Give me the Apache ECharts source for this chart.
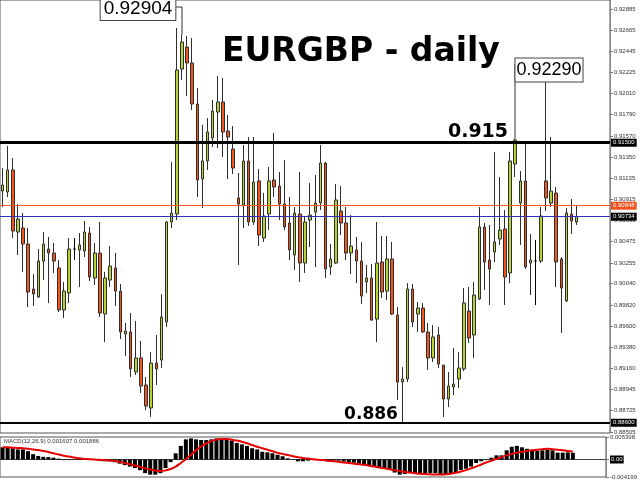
<!DOCTYPE html>
<html><head><meta charset="utf-8">
<script src="https://cdn.jsdelivr.net/npm/echarts@6/dist/echarts.min.js"></script>
<style>html,body{margin:0;padding:0;background:#fff}#c{width:640px;height:480px}</style>
</head><body><div id="c"></div>
<script>
// ---- data (EURGBP daily) ----
const opens = [0.91000,0.90990,0.91218,0.90575,0.90617,0.90451,0.89985,0.89902,0.90275,0.90399,
0.90358,0.90203,0.89768,0.89944,0.90399,0.90389,0.90379,0.90565,0.90099,0.90358,
0.89726,0.90078,0.90203,0.89964,0.89519,0.89540,0.89126,0.89271,0.88991,0.88753,
0.89219,0.89250,0.89643,0.90679,0.90762,0.92263,0.92491,0.92326,0.91901,0.91124,
0.91311,0.91549,0.91818,0.91922,0.91621,0.91435,0.90928,0.90855,0.91311,0.90679,
0.91104,0.90513,0.90762,0.91114,0.91052,0.90865,0.90669,0.90337,0.90762,0.90254,
0.90700,0.90782,0.90876,0.91290,0.90213,0.90254,0.90793,0.90669,0.90358,0.90389,
0.90275,0.90058,0.90099,0.89674,0.90265,0.89964,0.90296,0.89716,0.89022,0.89053,
0.89985,0.89726,0.89788,0.89540,0.89271,0.89509,0.89198,0.88846,0.88970,0.89053,
0.89157,0.89757,0.89509,0.89882,0.90627,0.90285,0.90368,0.90503,0.90607,0.90151,
0.91280,0.90876,0.91104,0.90254,0.90275,0.90275,0.91104,0.90876,0.90979,0.90296,
0.89861,0.90762,0.90679];
const closes = [0.91062,0.91218,0.90586,0.90710,0.90451,0.89954,0.89933,0.90275,0.90451,0.90358,
0.90275,0.89768,0.89964,0.90399,0.90399,0.90441,0.90575,0.90109,0.90358,0.89737,
0.90099,0.90223,0.89964,0.89540,0.89550,0.89157,0.89271,0.88981,0.88773,0.89219,
0.89157,0.89695,0.90679,0.90772,0.92253,0.92543,0.92326,0.91901,0.91114,0.91311,
0.91611,0.91828,0.91922,0.91611,0.91559,0.91238,0.90865,0.91311,0.90679,0.91093,
0.90544,0.90741,0.91104,0.91041,0.90865,0.90627,0.90389,0.90772,0.90254,0.90679,
0.90751,0.90876,0.91290,0.90192,0.90296,0.90907,0.90669,0.90358,0.90430,0.90275,
0.89913,0.90099,0.89664,0.90254,0.89954,0.90296,0.89726,0.89022,0.89053,0.89985,
0.89643,0.89788,0.89540,0.89271,0.89488,0.89208,0.88846,0.88981,0.89001,0.89167,
0.89840,0.89478,0.89923,0.90627,0.90265,0.90192,0.90472,0.90596,0.90109,0.91311,
0.91528,0.91104,0.90213,0.90285,0.90275,0.90741,0.90928,0.91000,0.90265,0.89995,
0.90772,0.90689,0.90734];
const lows = [0.90834,0.90938,0.90513,0.90337,0.90161,0.89799,0.89809,0.89892,0.90078,0.89840,
0.90151,0.89747,0.89685,0.89840,0.90285,0.90006,0.90317,0.90068,0.90027,0.89695,
0.89436,0.90006,0.89809,0.89467,0.89291,0.89074,0.89095,0.88908,0.88732,0.88660,
0.88991,0.89167,0.89592,0.90617,0.90700,0.92150,0.91984,0.91839,0.90938,0.90824,
0.91218,0.91456,0.91445,0.91352,0.91124,0.91176,0.90234,0.90617,0.90638,0.90648,
0.90430,0.90472,0.90596,0.90938,0.90700,0.90596,0.90285,0.90182,0.90058,0.90151,
0.90420,0.90213,0.90803,0.90099,0.90130,0.90244,0.90544,0.90285,0.90140,0.90047,
0.89830,0.89944,0.89654,0.89436,0.89892,0.89871,0.89716,0.88836,0.88608,0.89022,
0.89592,0.89540,0.89530,0.89146,0.89229,0.89167,0.88660,0.88763,0.88887,0.88960,
0.89136,0.89426,0.89271,0.89871,0.89975,0.89819,0.90265,0.90441,0.89819,0.90047,
0.91145,0.90441,0.90192,0.89923,0.89819,0.90254,0.90793,0.90834,0.90006,0.89530,
0.89850,0.90555,0.90648];
const highs = [0.91238,0.91466,0.91342,0.90865,0.90772,0.90617,0.90140,0.90399,0.90575,0.90524,
0.90462,0.90285,0.90058,0.90513,0.90513,0.90565,0.90689,0.90627,0.90462,0.90679,
0.90161,0.90430,0.90358,0.90037,0.89633,0.89737,0.89654,0.89447,0.89074,0.89333,
0.89509,0.89933,0.90689,0.91300,0.92688,0.92616,0.92605,0.92585,0.92067,0.91684,
0.91756,0.91942,0.92191,0.92170,0.91787,0.91673,0.91186,0.91476,0.91559,0.91559,
0.91228,0.90979,0.91249,0.91601,0.91197,0.91321,0.90938,0.90834,0.91197,0.90731,
0.91083,0.91166,0.91476,0.91300,0.90451,0.91073,0.91052,0.90834,0.90751,0.90524,
0.90472,0.90234,0.90244,0.90679,0.90534,0.90534,0.90472,0.89799,0.89177,0.90047,
0.90037,0.89850,0.89840,0.89633,0.89612,0.89592,0.89198,0.89126,0.89374,0.89333,
0.89995,0.90006,0.90058,0.90834,0.90669,0.90648,0.91404,0.91145,0.90803,0.91404,
0.91539,0.91207,0.91497,0.90555,0.90493,0.90834,0.92129,0.91559,0.91041,0.90317,
0.90824,0.90917,0.90845];
const macdHist = [0.00292,0.00292,0.00270,0.00242,0.00242,0.00199,0.00128,0.00085,0.00064,0.00057,
0.00043,0.00021,-0.00014,-0.00014,0.00005,0.00007,0.00007,0.00000,-0.00007,-0.00028,
-0.00043,-0.00043,-0.00064,-0.00100,-0.00135,-0.00170,-0.00206,-0.00256,-0.00327,-0.00363,
-0.00363,-0.00327,-0.00206,-0.00064,0.00149,0.00327,0.00483,0.00505,0.00483,0.00469,
0.00469,0.00483,0.00505,0.00505,0.00483,0.00455,0.00398,0.00363,0.00327,0.00270,
0.00242,0.00185,0.00171,0.00149,0.00114,0.00078,0.00028,0.00007,-0.00043,-0.00043,
-0.00028,-0.00014,-0.00007,-0.00028,-0.00043,-0.00028,-0.00028,-0.00050,-0.00064,-0.00078,
-0.00100,-0.00135,-0.00156,-0.00170,-0.00206,-0.00206,-0.00242,-0.00313,-0.00363,-0.00348,
-0.00327,-0.00334,-0.00327,-0.00334,-0.00327,-0.00327,-0.00348,-0.00363,-0.00348,-0.00327,
-0.00256,-0.00220,-0.00170,-0.00085,-0.00043,-0.00014,0.00043,0.00100,0.00100,0.00220,
0.00306,0.00327,0.00292,0.00256,0.00220,0.00206,0.00220,0.00235,0.00220,0.00164,
0.00164,0.00171,0.001607];
const macdSignal = [0.002915,0.002915,0.002844,0.002773,0.002702,0.002560,0.002417,0.002275,0.002062,0.001778,
0.001493,0.001209,0.000924,0.000711,0.000498,0.000284,0.000142,0.000071,0.000000,-0.000071,
-0.000142,-0.000213,-0.000356,-0.000569,-0.000853,-0.001138,-0.001422,-0.001778,-0.002133,-0.002417,
-0.002631,-0.002773,-0.002631,-0.002275,-0.001706,-0.000853,0.000071,0.001138,0.002204,0.003128,
0.003839,0.004408,0.004764,0.004906,0.004906,0.004764,0.004550,0.004266,0.003911,0.003484,
0.003057,0.002702,0.002346,0.001991,0.001635,0.001351,0.001067,0.000782,0.000569,0.000356,
0.000213,0.000071,-0.000071,-0.000142,-0.000284,-0.000427,-0.000569,-0.000711,-0.000853,-0.000995,
-0.001138,-0.001280,-0.001493,-0.001706,-0.001920,-0.002133,-0.002346,-0.002560,-0.002773,-0.002986,
-0.003128,-0.003271,-0.003413,-0.003484,-0.003555,-0.003626,-0.003626,-0.003555,-0.003413,-0.003200,
-0.002915,-0.002560,-0.002133,-0.001706,-0.001209,-0.000711,-0.000284,0.000142,0.000569,0.000995,
0.001351,0.001635,0.001849,0.002062,0.002204,0.002346,0.002489,0.002560,0.002489,0.002346,
0.002204,0.002062,0.001886];
const priceTicks = [0.92885,0.92665,0.92445,0.92225,0.92010,0.91790,0.91570,0.91350,0.91135,0.90915,
0.90695,0.90475,0.90255,0.90040,0.89820,0.89600,0.89380,0.89160,0.88945,0.88725,0.88505];
const macdTicks = [0.005398, 0, -0.004199];
const levelValues = [0.91500, 0.88600, 0.90848, 0.90734];
const levelLabels = ['0.91500', '0.88600', '0.90848', '0.90734'];
const calloutLabels = ['0.92904', '0.92290'];
const slotCount = 119; // 113 bars plus empty right margin
const categories = Array.from({length: slotCount}, (_, i) => String(i + 1));

const candleData = opens.map((o, i) => [o, closes[i], lows[i], highs[i]]);

const FONT = 'Liberation Sans';
const lvlStyles = [
  {line: {color: '#000', width: 3}, bg: '#000'},
  {line: {color: '#000', width: 2}, bg: '#000'},
  {line: {color: '#ff5a1f', width: 1}, bg: '#f0501c'},
  {line: {color: '#3030b8', width: 1}, bg: '#000'}
];

const chart = echarts.init(document.getElementById('c'), null, {renderer: 'canvas'});
chart.setOption({
  animation: false,
  backgroundColor: '#fff',
  grid: [
    {left: 0, top: 0, width: 610, height: 433, show: true, borderColor: '#555', borderWidth: 1},
    {left: 0, top: 437, width: 610, height: 45, show: true, borderColor: '#555', borderWidth: 1}
  ],
  xAxis: [
    {type: 'category', gridIndex: 0, data: categories, boundaryGap: true,
     axisLine: {show: false}, axisTick: {show: false}, axisLabel: {show: false}, splitLine: {show: false}},
    {type: 'category', gridIndex: 1, data: categories, boundaryGap: true,
     axisLine: {show: true, onZero: true, lineStyle: {color: '#444', width: 1}},
     axisTick: {show: false}, axisLabel: {show: false}, splitLine: {show: false}}
  ],
  yAxis: [
    {type: 'value', gridIndex: 0, position: 'right', min: 0.88494, max: 0.92978,
     splitLine: {show: false},
     axisLine: {show: true, lineStyle: {color: '#888'}},
     axisTick: {show: true, length: 3, customValues: priceTicks, lineStyle: {color: '#777'}},
     axisLabel: {customValues: priceTicks, formatter: v => v.toFixed(5), fontSize: 6,
                 fontFamily: FONT, color: '#333', margin: 4}},
    {type: 'value', gridIndex: 1, position: 'right', min: -0.004199, max: 0.005398,
     splitLine: {show: false},
     axisLine: {show: true, lineStyle: {color: '#888'}},
     axisTick: {show: true, length: 3, customValues: macdTicks, lineStyle: {color: '#777'}},
     axisLabel: {customValues: macdTicks,
                 formatter: v => v === 0 ? '{z|0.00}' : v.toFixed(6),
                 rich: {z: {backgroundColor: '#000', color: '#fff', fontSize: 6, fontFamily: FONT, padding: [1, 1]}},
                 fontSize: 6, fontFamily: FONT, color: '#333', margin: 4}}
  ],
  series: [
    {
      type: 'candlestick', xAxisIndex: 0, yAxisIndex: 0, data: candleData, barWidth: 3,
      itemStyle: {color: '#b5d334', color0: '#f0561d', borderColor: '#2e2e2e', borderColor0: '#2e2e2e',
                  borderColorDoji: '#000', borderWidth: 1},
      markLine: {
        silent: true, symbol: ['none', 'none'], animation: false, precision: 5,
        data: levelValues.map((v, i) => ({
          yAxis: v,
          lineStyle: Object.assign({type: 'solid', opacity: 1}, lvlStyles[i].line),
          label: {show: true, position: 'end', distance: 1, formatter: levelLabels[i],
                  backgroundColor: lvlStyles[i].bg, color: '#fff', fontSize: 6, fontFamily: FONT,
                  padding: [1, 2, 1, 2]}
        }))
      }
    },
    {type: 'bar', xAxisIndex: 1, yAxisIndex: 1, data: macdHist, barWidth: 4,
     itemStyle: {color: '#000'}},
    {type: 'line', xAxisIndex: 1, yAxisIndex: 1, data: macdSignal, smooth: true, showSymbol: false,
     lineStyle: {color: '#e60000', width: 2}, z: 5}
  ],
  graphic: [
    {type: 'text', left: 222, top: 36, z: 100,
     style: {text: 'EURGBP - daily', font: 'bold 33px "DejaVu Sans"', fill: '#000'}},
    {type: 'text', x: 478, y: 132, z: 100,
     style: {text: '0.915', font: 'bold 19px "DejaVu Sans"', fill: '#000', textAlign: 'center', textVerticalAlign: 'middle'}},
    {type: 'text', x: 371, y: 415, z: 100,
     style: {text: '0.886', font: 'bold 17px "DejaVu Sans"', fill: '#000', textAlign: 'center', textVerticalAlign: 'middle'}},
    {type: 'polyline', z: 99, shape: {points: [[174, 7], [182, 7], [182, 35]]}, style: {stroke: '#333', lineWidth: 1, fill: null}},
    {type: 'text', x: 138, y: 9, z: 100,
     style: {text: calloutLabels[0], font: '19px "Liberation Sans"', fill: '#000', textAlign: 'center', textVerticalAlign: 'middle',
             backgroundColor: '#fff', borderColor: '#444', borderWidth: 1, padding: [2, 3, 1, 3]}},
    {type: 'polyline', z: 99, shape: {points: [[518, 64], [515, 64], [515, 139]]}, style: {stroke: '#333', lineWidth: 1, fill: null}},
    {type: 'text', x: 549, y: 70, z: 100,
     style: {text: calloutLabels[1], font: '18px "Liberation Sans"', fill: '#000', textAlign: 'center', textVerticalAlign: 'middle',
             backgroundColor: '#fff', borderColor: '#444', borderWidth: 1, padding: [3, 1, 2, 1]}},
    {type: 'text', left: 4, top: 438, z: 100,
     style: {text: 'MACD(12,26,9) 0.001607 0.001886', font: '6px "Liberation Sans"', fill: '#333'}}
  ]
});
</script></body></html>
